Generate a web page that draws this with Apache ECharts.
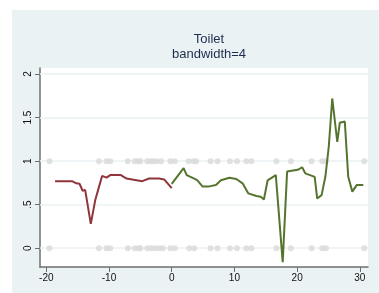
<!DOCTYPE html>
<html><head><meta charset="utf-8">
<script src="https://cdn.jsdelivr.net/npm/echarts@6/dist/echarts.min.js"></script>
<style>html,body{margin:0;padding:0;background:#fff}#c{width:379px;height:293px}</style>
</head><body><div id="c"></div>
<script>
var titleText = 'Toilet';
var subtitleText = 'bandwidth=4';
var xTicks = [-20, -10, 0, 10, 20, 30];
var yTicks = [0, 0.5, 1, 1.5, 2];
var yTickLabels = ['0', '.5', '1', '1.5', '2'];
var dotsAt1 = [-19.5, -11.6, -10.4, -9.8, -7.0, -5.9, -5.4, -5.0, -3.9, -3.4, -2.9, -2.4, -1.7, -0.2, 0.5, 2.7, 3.5, 3.9, 6.2, 7.3, 9.3, 10.4, 11.9, 12.7, 16.7, 19.0, 22.3, 24.0, 24.6, 30.7];
var dotsAt0 = [-19.5, -11.6, -10.4, -9.8, -7.0, -5.9, -5.3, -5.0, -3.9, -3.3, -2.6, -2.0, -1.4, -0.2, 0.5, 2.8, 3.6, 6.2, 7.3, 9.3, 10.4, 11.9, 12.7, 16.7, 19.0, 22.3, 24.0, 24.6, 30.7];
var leftX = [-18.6, -15.9, -15.2, -14.7, -14.2, -13.8, -13.5, -12.9, -12.2, -11.65, -11.1, -10.4, -9.8, -8.1, -7.2, -6.3, -4.7, -3.6, -2.0, -1.2, 0];
var leftY = [0.77, 0.77, 0.745, 0.74, 0.66, 0.67, 0.68, 0.28, 0.55, 0.69, 0.83, 0.81, 0.84, 0.84, 0.80, 0.79, 0.77, 0.80, 0.80, 0.79, 0.69];
var rightX = [0, 1.9, 2.4, 3.6, 4.1, 4.9, 6.0, 7.05, 7.85, 9.2, 10.3, 11.3, 12.2, 13.5, 14.2, 14.7, 15.3, 16.6, 17.7, 18.4, 20.1, 20.8, 21.3, 22.8, 23.2, 23.9, 24.5, 25.05, 25.6, 26.4, 26.8, 27.6, 28.15, 28.8, 29.5, 30.55];
var rightY = [0.74, 0.92, 0.84, 0.80, 0.78, 0.71, 0.71, 0.725, 0.78, 0.81, 0.795, 0.745, 0.63, 0.60, 0.59, 0.56, 0.78, 0.84, -0.16, 0.88, 0.90, 0.93, 0.86, 0.82, 0.57, 0.61, 0.82, 1.17, 1.72, 1.22, 1.44, 1.455, 0.82, 0.65, 0.725, 0.725];

function pairs(xs, ys) { return xs.map(function (x, i) { return [x, ys[i]]; }); }
var dots = dotsAt1.map(function (x) { return [x, 1]; }).concat(dotsAt0.map(function (x) { return [x, 0]; }));

var chart = echarts.init(document.getElementById('c'), null, {renderer: 'canvas'});
var txt = '#1e2d50';
chart.setOption({
  animation: false,
  backgroundColor: '#ffffff',
  graphic: [{type: 'rect', z: -10, shape: {x: 12, y: 10, width: 367, height: 283}, style: {fill: '#eaf2f3'}}],
  title: {
    text: titleText + '\n' + subtitleText,
    left: 204, top: 27, textAlign: 'center',
    textStyle: {fontFamily: 'Liberation Sans, Arial, sans-serif', fontSize: 13, fontWeight: 'normal', color: txt, lineHeight: 15}
  },
  grid: {left: 40, top: 68, right: 11, bottom: 26, show: true, backgroundColor: '#ffffff', borderWidth: 0},
  xAxis: {
    type: 'value', min: -21, max: 31.3,
    axisLine: {show: true, onZero: false, lineStyle: {color: '#6f6f6f', width: 1.5}},
    axisTick: {show: true, length: 5, customValues: xTicks, lineStyle: {color: '#6f6f6f'}},
    axisLabel: {customValues: xTicks, color: '#111', fontSize: 10, fontFamily: 'Liberation Sans, Arial, sans-serif', margin: 6},
    splitLine: {show: false}
  },
  yAxis: {
    type: 'value', min: -0.216, max: 2.07,
    axisLine: {show: true, onZero: false, lineStyle: {color: '#6f6f6f', width: 1.5}},
    axisTick: {show: true, length: 5, customValues: yTicks, lineStyle: {color: '#6f6f6f'}},
    axisLabel: {customValues: yTicks, rotate: 90, color: '#111', fontSize: 10, fontFamily: 'Liberation Sans, Arial, sans-serif', margin: 7,
      formatter: function (v) { var i = yTicks.indexOf(v); return i >= 0 ? yTickLabels[i] : ''; }},
    splitLine: {show: false}
  },
  series: [
    {
      type: 'scatter', data: dots, symbolSize: 6, silent: true,
      itemStyle: {color: '#d9d9d9'}, z: 3,
      markLine: {
        silent: true, symbol: 'none', label: {show: false},
        lineStyle: {color: '#eaf2f3', width: 1.5, type: 'solid'},
        data: yTicks.map(function (v) { return {yAxis: v}; }), z: 1
      }
    },
    {type: 'line', data: pairs(leftX, leftY), showSymbol: false, lineStyle: {color: '#90353b', width: 2}, z: 5},
    {type: 'line', data: pairs(rightX, rightY), showSymbol: false, lineStyle: {color: '#55752f', width: 2}, z: 5}
  ]
});
</script></body></html>
